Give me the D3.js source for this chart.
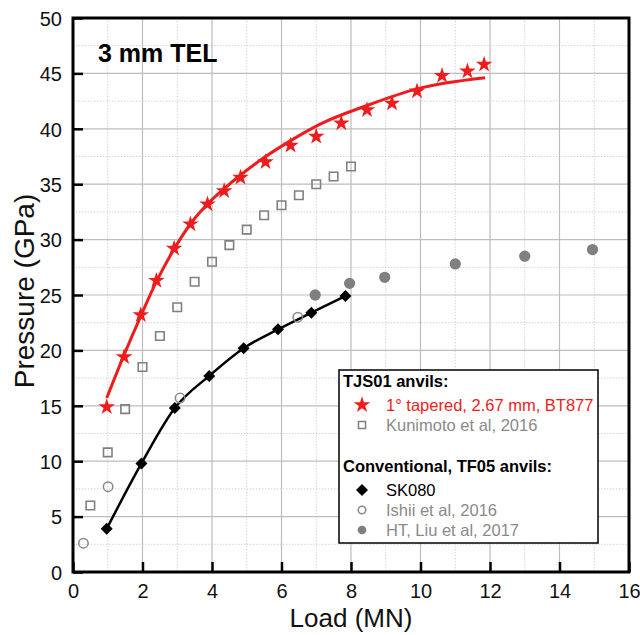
<!DOCTYPE html>
<html><head><meta charset="utf-8">
<script src="https://cdn.jsdelivr.net/npm/d3@7"></script>
<style>body{margin:0;background:#fff}text{font-family:"Liberation Sans",Arial,sans-serif}</style>
</head><body><svg id="c" width="640" height="635"></svg>
<script>
// ---- data ----
const xTicks = [0,2,4,6,8,10,12,14,16];
const yTicks = [0,5,10,15,20,25,30,35,40,45,50];
const starLoad = [0.97,1.47,1.95,2.40,2.91,3.38,3.87,4.35,4.82,5.54,6.26,7.0,7.72,8.46,9.18,9.90,10.62,11.35,11.83];
const starP    = [14.9,19.4,23.2,26.3,29.2,31.4,33.2,34.4,35.6,37.0,38.5,39.3,40.5,41.7,42.3,43.4,44.8,45.2,45.8];
const fitLoad  = [0.97,1.47,1.95,2.4,2.9,3.4,3.9,4.35,4.85,5.5,6.3,7.1,8.46,9.9,11.86];
const fitP     = [15.7,19.6,23.1,26.2,29.1,31.5,33.3,34.6,35.9,37.4,39.0,40.4,42.1,43.6,44.6];
const sqLoad = [0.5,1,1.5,2,2.5,3,3.5,4,4.5,5,5.5,6,6.5,7,7.5,8];
const sqP    = [6.0,10.8,14.7,18.5,21.3,23.9,26.2,28.0,29.5,30.9,32.2,33.1,34.0,35.0,35.7,36.6];
const skLoad = [0.97,1.97,2.93,3.92,4.91,5.9,6.86,7.84];
const skP    = [3.9,9.8,14.8,17.7,20.2,21.9,23.4,24.9];
const ishLoad = [0.30,1.01,3.08,6.47];
const ishP    = [2.6,7.7,15.7,23.0];
const htLoad = [6.97,7.96,8.97,11.0,13.0,14.95];
const htP    = [25.0,26.05,26.6,27.8,28.5,29.1];

const RED = "#ee1c1c", GRAY = "#808080";
const svg = d3.select("#c");
const L = 73, R = 629, T = 18, B = 572;
const x = d3.scaleLinear().domain([0,16]).range([L,R]);
const y = d3.scaleLinear().domain([0,50]).range([B,T]);

// grid
const g = svg.append("g");
g.selectAll(".mnx").data(d3.range(1,16,2)).join("line")
  .attr("x1",d=>x(d)).attr("x2",d=>x(d)).attr("y1",T).attr("y2",B)
  .attr("stroke","#d4d4d4").attr("stroke-width",1).attr("stroke-dasharray","1.5,1.5");
g.selectAll(".mny").data(d3.range(2.5,50,5)).join("line")
  .attr("y1",d=>y(d)).attr("y2",d=>y(d)).attr("x1",L).attr("x2",R)
  .attr("stroke","#d4d4d4").attr("stroke-width",1).attr("stroke-dasharray","1.5,1.5");
g.selectAll(".mjx").data(xTicks.slice(1,-1)).join("line")
  .attr("x1",d=>x(d)).attr("x2",d=>x(d)).attr("y1",T).attr("y2",B)
  .attr("stroke","#bdbdbd").attr("stroke-width",1.2);
g.selectAll(".mjy").data(yTicks.slice(1,-1)).join("line")
  .attr("y1",d=>y(d)).attr("y2",d=>y(d)).attr("x1",L).attr("x2",R)
  .attr("stroke","#bdbdbd").attr("stroke-width",1.2);

// axes (ticks inward)
const xa = svg.append("g").attr("transform",`translate(0,${B})`)
  .call(d3.axisBottom(x).tickValues(xTicks).tickSizeInner(-10).tickSizeOuter(0).tickPadding(12));
const ya = svg.append("g").attr("transform",`translate(${L},0)`)
  .call(d3.axisLeft(y).tickValues(yTicks).tickSizeInner(-10).tickSizeOuter(0).tickPadding(11));
[xa,ya].forEach(a=>{
  a.select(".domain").remove();
  a.selectAll(".tick line").attr("stroke","#000").attr("stroke-width",2.5);
  a.selectAll(".tick text").attr("font-size",20).attr("fill","#111").attr("font-family","Liberation Sans, Arial, sans-serif");
});
xa.selectAll(".tick text").attr("dy","0.71em");
ya.selectAll(".tick text").attr("dy","0.36em");
svg.append("rect").attr("x",L).attr("y",T).attr("width",R-L).attr("height",B-T)
  .attr("fill","none").attr("stroke","#000").attr("stroke-width",3);

// axis labels
svg.append("text").attr("x",(L+R)/2).attr("y",627).attr("text-anchor","middle")
  .attr("font-size",26).attr("fill","#111").text("Load (MN)");
svg.append("text").attr("transform",`translate(34,291) rotate(-90)`).attr("text-anchor","middle")
  .attr("font-size",28).attr("fill","#111").text("Pressure (GPa)");
svg.append("text").attr("x",98).attr("y",62).attr("font-size",25).attr("font-weight","bold")
  .attr("fill","#000").text("3 mm TEL");

// lines
const line = d3.line().x(d=>x(d[0])).y(d=>y(d[1])).curve(d3.curveMonotoneX);
svg.append("path").datum(fitLoad.map((v,i)=>[v,fitP[i]])).attr("d",line)
  .attr("fill","none").attr("stroke",RED).attr("stroke-width",3);
svg.append("path").datum(skLoad.map((v,i)=>[v,skP[i]])).attr("d",line)
  .attr("fill","none").attr("stroke","#000").attr("stroke-width",2.5);

// markers
const star = d3.symbol().type(d3.symbolStar).size(85);
const sq = d3.symbol().type(d3.symbolSquare).size(72);
const circO = d3.symbol().type(d3.symbolCircle).size(70);
const circF = d3.symbol().type(d3.symbolCircle).size(100);
const diam = d3.symbol().type(d3.symbolSquare).size(72);

svg.append("g").selectAll("path").data(sqLoad.map((v,i)=>[v,sqP[i]])).join("path")
  .attr("d",sq).attr("transform",d=>`translate(${x(d[0])},${y(d[1])})`)
  .attr("fill","none").attr("stroke",GRAY).attr("stroke-width",1.6);
svg.append("g").selectAll("path").data(ishLoad.map((v,i)=>[v,ishP[i]])).join("path")
  .attr("d",circO).attr("transform",d=>`translate(${x(d[0])},${y(d[1])})`)
  .attr("fill","none").attr("stroke","#888").attr("stroke-width",1.5);
svg.append("g").selectAll("path").data(htLoad.map((v,i)=>[v,htP[i]])).join("path")
  .attr("d",circF).attr("transform",d=>`translate(${x(d[0])},${y(d[1])})`)
  .attr("fill",GRAY);
svg.append("g").selectAll("path").data(skLoad.map((v,i)=>[v,skP[i]])).join("path")
  .attr("d",diam).attr("transform",d=>`translate(${x(d[0])},${y(d[1])}) rotate(45)`)
  .attr("fill","#000");
svg.append("g").selectAll("path").data(starLoad.map((v,i)=>[v,starP[i]])).join("path")
  .attr("d",star).attr("transform",d=>`translate(${x(d[0])},${y(d[1])})`)
  .attr("fill",RED);

// legend
const lg = svg.append("g");
lg.append("rect").attr("x",339).attr("y",370).attr("width",259).attr("height",173)
  .attr("fill","#fff").attr("stroke","#000").attr("stroke-width",1.5);
const lx = 362, tx = 386;
lg.append("text").attr("x",343).attr("y",387).attr("font-size",16.5).attr("font-weight","bold").text("TJS01 anvils:");
lg.append("text").attr("x",343).attr("y",472).attr("font-size",16.5).attr("font-weight","bold").text("Conventional, TF05 anvils:");
const items = [
  {y:405, sym:star, fill:RED, stroke:"none", rot:0, col:RED, label:"1° tapered, 2.67 mm, BT877"},
  {y:425, sym:d3.symbol().type(d3.symbolSquare).size(50), fill:"none", stroke:GRAY, rot:0, col:"#8a8a8a", label:"Kunimoto et al, 2016"},
  {y:490, sym:diam, fill:"#000", stroke:"none", rot:45, col:"#000", label:"SK080"},
  {y:510, sym:d3.symbol().type(d3.symbolCircle).size(45), fill:"none", stroke:"#888", rot:0, col:"#8a8a8a", label:"Ishii et al, 2016"},
  {y:530, sym:d3.symbol().type(d3.symbolCircle).size(60), fill:GRAY, stroke:"none", rot:0, col:"#8a8a8a", label:"HT, Liu et al, 2017"}
];
items.forEach(it=>{
  lg.append("path").attr("d",it.sym).attr("transform",`translate(${lx},${it.y}) rotate(${it.rot})`)
    .attr("fill",it.fill).attr("stroke",it.stroke).attr("stroke-width",1.5);
  lg.append("text").attr("x",tx).attr("y",it.y+5.5).attr("font-size",16.5).attr("fill",it.col).text(it.label);
});
</script></body></html>
